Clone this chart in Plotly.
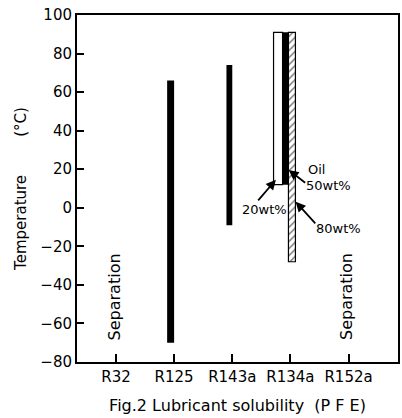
import plotly.graph_objects as go

categories = ["R32", "R125", "R143a", "R134a", "R152a"]
y_ticks = [-80, -60, -40, -20, 0, 20, 40, 60, 80, 100]

# Solubility ranges (°C): black bars (R125, R143a, R134a 50wt%)
oil50_cats = ["R125", "R143a", "R134a"]
oil50_low = [-70, -9, 12]
oil50_high = [66, 74, 91]
# R134a oil 20wt% (white) and 80wt% (hatched)
oil20_cats = ["R134a"]
oil20_low = [12]
oil20_high = [91]
oil80_cats = ["R134a"]
oil80_low = [-28]
oil80_high = [91]
separation_cats = ["R32", "R152a"]

FONT = "DejaVu Sans, Verdana, sans-serif"
NB = "\u00a0"

fig = go.Figure()
fig.add_trace(go.Bar(
    x=oil20_cats, y=[h - l for h, l in zip(oil20_high, oil20_low)], base=oil20_low,
    width=0.155, offset=-0.29,
    marker=dict(color="white", line=dict(color="black", width=1.2)),
    showlegend=False))
fig.add_trace(go.Bar(
    x=oil50_cats, y=[h - l for h, l in zip(oil50_high, oil50_low)], base=oil50_low,
    width=[0.12, 0.10, 0.10], offset=[-0.12, -0.10, -0.137],
    marker=dict(color="black", line=dict(color="black", width=0)),
    showlegend=False))
fig.add_trace(go.Bar(
    x=oil80_cats, y=[h - l for h, l in zip(oil80_high, oil80_low)], base=oil80_low,
    width=0.12, offset=-0.034,
    marker=dict(color="white", line=dict(color="black", width=1.2),
                pattern=dict(shape="/", fgcolor="black", bgcolor="white", size=5, solidity=0.3)),
    showlegend=False))

for c in separation_cats:
    fig.add_annotation(x=c, y=-46, text="Separation", textangle=-90, showarrow=False,
                       xshift=-2, font=dict(family=FONT, size=16, color="black"))

lab_font = dict(family=FONT, size=13, color="black")
fig.add_annotation(x=3.44, y=19.6, text="Oil", showarrow=False, font=lab_font)
fig.add_annotation(x=3.66, y=11.4, text="50wt%", showarrow=False, font=lab_font)
fig.add_annotation(x=2.56, y=-1.0, text="20wt%", showarrow=False, font=lab_font)
fig.add_annotation(x=3.83, y=-10.9, text="80wt%", showarrow=False, font=lab_font)
for hx, hy, ax, ay in [(2.97, 19.6, 18, 14), (2.75, 14.5, -19, 22), (3.09, 3.1, 21, 23)]:
    fig.add_annotation(x=hx, y=hy, ax=ax, ay=ay, text="", showarrow=True,
                       arrowhead=2, arrowsize=1.1, arrowwidth=1.8, arrowcolor="black")

fig.update_layout(
    width=402, height=418,
    margin=dict(l=77, r=2, t=15, b=56),
    paper_bgcolor="white", plot_bgcolor="white",
    barmode="overlay",
    font=dict(family=FONT, color="black"),
    xaxis=dict(type="category", categoryorder="array", categoryarray=categories,
               range=[-0.67, 4.85], showline=True, linecolor="black", linewidth=2,
               mirror=True, ticks="inside", ticklen=8, tickwidth=1.5, tickcolor="black",
               showgrid=False, tickfont=dict(size=15),
               title=dict(text="Fig.2 Lubricant solubility" + NB * 2 + "(P F E)",
                          font=dict(size=16), standoff=15)),
    yaxis=dict(range=[-80, 100], tickvals=y_ticks, showline=True, linecolor="black",
               linewidth=2, mirror=True, ticks="inside", ticklen=7, tickwidth=1.5,
               tickcolor="black", showgrid=False, zeroline=False, tickfont=dict(size=15),
               title=dict(text="Temperature" + NB * 8 + "(\u00b0C)", font=dict(size=15), standoff=10)),
)

fig.write_html("out.html")
